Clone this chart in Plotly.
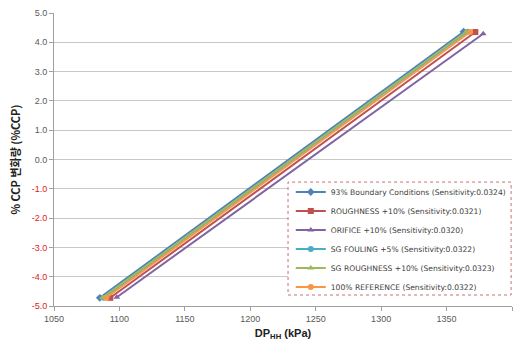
import plotly.graph_objects as go

names = ["93% Boundary Conditions (Sensitivity:0.0324)",
         "ROUGHNESS +10% (Sensitivity:0.0321)",
         "ORIFICE +10% (Sensitivity:0.0320)",
         "SG FOULING +5% (Sensitivity:0.0322)",
         "SG ROUGHNESS +10% (Sensitivity:0.0323)",
         "100% REFERENCE (Sensitivity:0.0322)"]
x_vals = [[1085, 1363], [1093, 1372], [1098, 1378], [1088, 1366], [1087, 1365], [1090, 1368]]
y_vals = [[-4.72, 4.36], [-4.72, 4.35], [-4.70, 4.29], [-4.72, 4.36], [-4.72, 4.36], [-4.72, 4.35]]
colors = ["#4F81BD", "#C0504D", "#8064A2", "#4BACC6", "#9BBB59", "#F79646"]
symbols = ["diamond", "square", "triangle-up", "circle", "triangle-up", "circle"]

y_ticks = [5, 4, 3, 2, 1, 0, -1, -2, -3, -4, -5]
x_ticks = [1050, 1100, 1150, 1200, 1250, 1300, 1350, 1400]

fig = go.Figure()
for n, xs, ys, c, s in zip(names, x_vals, y_vals, colors, symbols):
    fig.add_trace(go.Scatter(x=xs, y=ys, name=n, mode="lines+markers",
                             line=dict(color=c, width=2),
                             marker=dict(symbol=s, size=6, color=c)))

ticktext = [(f'<span style="color:#E02020">{v:.1f}</span>' if v < 0 else f"{v:.1f}") for v in y_ticks]

# dotted legend frame (paper coordinates)
fig.add_shape(type="rect", xref="paper", yref="paper",
              x0=0.511, x1=0.998, y0=0.0375, y1=0.423,
              line=dict(color="#C87070", width=1, dash="dot"),
              fillcolor="white", layer="above")

fig.update_layout(
    width=520, height=347,
    margin=dict(l=54, r=8, t=13, b=41),
    paper_bgcolor="white", plot_bgcolor="white",
    font=dict(family="Liberation Sans, Noto Sans CJK KR", size=9, color="#595959"),
    showlegend=True,
    legend=dict(x=0.517, y=0.4385, xanchor="left", yanchor="top",
                bgcolor="rgba(0,0,0,0)", borderwidth=0,
                font=dict(size=7.6, color="#404040", family="DejaVu Sans"), tracegroupgap=0,
                itemwidth=30),
    xaxis=dict(range=[1050, 1400], tickvals=x_ticks, showgrid=False,
               showline=True, linecolor="#A0A0A0", ticks="outside", ticklen=4,
               tickcolor="#A0A0A0", zeroline=False,
               title=dict(text="<b>DP<sub>HH</sub> (kPa)</b>", font=dict(size=11, color="#222"), standoff=6)),
    yaxis=dict(range=[-5, 5], tickvals=y_ticks, ticktext=ticktext, showgrid=True,
               gridcolor="#C8C8C8", gridwidth=1, showline=True, linecolor="#A0A0A0",
               ticks="outside", ticklen=4, tickcolor="#A0A0A0", zeroline=False,
               title=dict(text="<b>% CCP 변화량 (%CCP)</b>", font=dict(size=11, color="#222", family="Noto Sans CJK KR"), standoff=8)),
)

fig.write_html("out.html")
